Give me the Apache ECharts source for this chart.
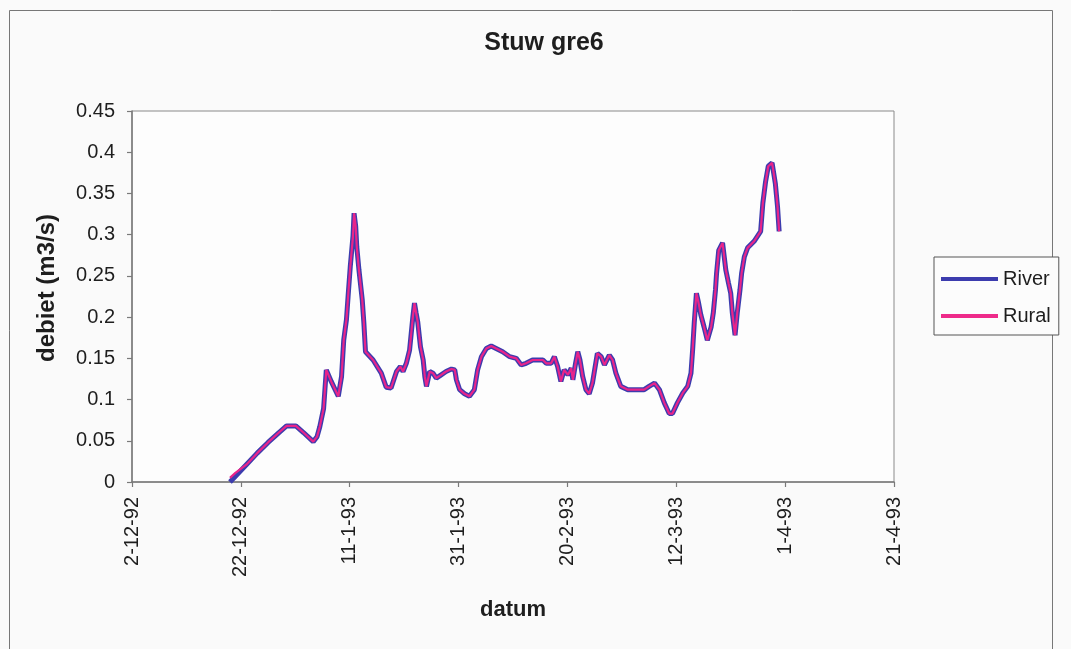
<!DOCTYPE html>
<html>
<head>
<meta charset="utf-8">
<title>Stuw gre6</title>
<script src="https://cdn.jsdelivr.net/npm/echarts@6/dist/echarts.min.js"></script>
<style>
  html, body { margin: 0; padding: 0; background: #fafafa; }
  #chart { width: 1071px; height: 649px; }
</style>
</head>
<body>
<div id="chart"></div>
<script>
// Date ticks along the x axis, one every 20 days starting 2-12-92
const dateTicks = ['2-12-92', '22-12-92', '11-1-93', '31-1-93', '20-2-93', '12-3-93', '1-4-93', '21-4-93'];

// Day offsets since 2-12-92
const days = [
  18.0, 19.0, 21.0, 23.0, 25.0, 27.0, 28.4, 30.1, 31.5, 33.3,
  34.0, 34.5, 35.2, 35.7, 36.6, 37.9, 38.5, 38.9, 39.4, 39.7,
  40.1, 40.6, 40.8, 41.1, 41.3, 41.7, 42.3, 42.6, 42.9, 44.3,
  45.8, 46.7, 47.6, 48.6, 49.3, 49.8, 50.4, 51.0, 51.3, 51.6,
  51.9, 52.2, 52.5, 53.0, 53.5, 53.8, 54.1, 54.7, 55.3, 55.9,
  56.8, 57.7, 58.7, 59.3, 59.6, 60.2, 61.1, 62.0, 62.9, 63.5,
  64.2, 65.1, 66.0, 66.9, 68.1, 69.4, 70.6, 71.5, 72.4, 73.6,
  75.5, 76.1, 77.0, 77.6, 78.2, 78.8, 79.4, 80.1, 80.7, 81.0,
  81.5, 81.9, 82.3, 82.8, 83.4, 84.0, 84.6, 85.5, 86.2, 86.8,
  87.7, 88.3, 88.9, 89.8, 91.1, 94.1, 95.0, 96.0, 96.9, 97.8,
  98.7, 99.3, 100.2, 101.2, 102.1, 102.7, 103.0, 103.3, 103.7, 104.1,
  104.5, 105.1, 105.7, 106.4, 106.8, 107.2, 107.4, 107.8, 108.5, 108.8,
  109.1, 109.6, 110.0, 110.3, 110.8, 111.2, 111.7, 112.0, 112.5, 113.1,
  114.3, 115.5, 115.9, 116.4, 116.9, 117.6, 118.2, 118.6, 118.9
];

// Discharge (m3/s), River model
const river = [
  0.000, 0.007, 0.021, 0.035, 0.048, 0.060, 0.068, 0.068, 0.060, 0.049,
  0.055, 0.067, 0.089, 0.136, 0.122, 0.104, 0.128, 0.172, 0.197, 0.225,
  0.261, 0.298, 0.326, 0.310, 0.285, 0.257, 0.221, 0.193, 0.158, 0.148,
  0.132, 0.115, 0.114, 0.134, 0.140, 0.134, 0.144, 0.160, 0.180, 0.200,
  0.217, 0.205, 0.194, 0.164, 0.148, 0.128, 0.116, 0.134, 0.132, 0.126,
  0.130, 0.134, 0.137, 0.136, 0.124, 0.112, 0.107, 0.104, 0.112, 0.136,
  0.152, 0.162, 0.165, 0.162, 0.158, 0.152, 0.150, 0.142, 0.144, 0.148,
  0.148, 0.144, 0.144, 0.152, 0.140, 0.122, 0.136, 0.130, 0.138, 0.124,
  0.144, 0.158, 0.148, 0.128, 0.112, 0.107, 0.120, 0.156, 0.152, 0.142,
  0.154, 0.148, 0.132, 0.116, 0.112, 0.112, 0.116, 0.120, 0.112, 0.096,
  0.083, 0.083, 0.096, 0.108, 0.116, 0.132, 0.160, 0.193, 0.229, 0.217,
  0.203, 0.188, 0.172, 0.188, 0.205, 0.233, 0.253, 0.281, 0.290, 0.288,
  0.257, 0.241, 0.229, 0.205, 0.178, 0.205, 0.233, 0.253, 0.273, 0.284,
  0.292, 0.304, 0.338, 0.364, 0.383, 0.387, 0.362, 0.334, 0.304
];

// Discharge (m3/s), Rural model
const rural = [
  0.005, 0.011, 0.021, 0.035, 0.048, 0.060, 0.068, 0.068, 0.060, 0.049,
  0.055, 0.067, 0.089, 0.136, 0.122, 0.104, 0.128, 0.172, 0.197, 0.225,
  0.261, 0.298, 0.326, 0.310, 0.285, 0.257, 0.221, 0.193, 0.158, 0.148,
  0.132, 0.115, 0.114, 0.134, 0.140, 0.134, 0.144, 0.160, 0.180, 0.200,
  0.217, 0.205, 0.194, 0.164, 0.148, 0.128, 0.116, 0.134, 0.132, 0.126,
  0.130, 0.134, 0.137, 0.136, 0.124, 0.112, 0.107, 0.104, 0.112, 0.136,
  0.152, 0.162, 0.165, 0.162, 0.158, 0.152, 0.150, 0.142, 0.144, 0.148,
  0.148, 0.144, 0.144, 0.152, 0.140, 0.122, 0.136, 0.130, 0.138, 0.124,
  0.144, 0.158, 0.148, 0.128, 0.112, 0.107, 0.120, 0.156, 0.152, 0.142,
  0.154, 0.148, 0.132, 0.116, 0.112, 0.112, 0.116, 0.120, 0.112, 0.096,
  0.083, 0.083, 0.096, 0.108, 0.116, 0.132, 0.160, 0.193, 0.229, 0.217,
  0.203, 0.188, 0.172, 0.188, 0.205, 0.233, 0.253, 0.281, 0.290, 0.288,
  0.257, 0.241, 0.229, 0.205, 0.178, 0.205, 0.233, 0.253, 0.273, 0.284,
  0.292, 0.304, 0.338, 0.364, 0.383, 0.387, 0.362, 0.334, 0.304
];

const FONT = '"Liberation Sans", Arial, sans-serif';
const AXIS_GREY = '#7a7a7a';
const TEXT = '#1e1e1e';

const chart = echarts.init(document.getElementById('chart'), null, { renderer: 'canvas' });

chart.setOption({
  backgroundColor: '#fafafa',
  animation: false,
  title: {
    text: 'Stuw gre6',
    left: 539,
    top: 26,
    textAlign: 'center',
    textStyle: { fontFamily: FONT, fontSize: 25, fontWeight: 'bold', color: TEXT }
  },
  legend: {
    orient: 'vertical',
    left: 934,
    top: 257,
    padding: [11, 8, 8, 7],
    itemWidth: 57,
    itemHeight: 4,
    itemGap: 15,
    borderColor: '#555',
    borderWidth: 1,
    backgroundColor: '#fcfcfc',
    icon: 'rect',
    textStyle: { fontFamily: FONT, fontSize: 20, color: TEXT, lineHeight: 22 },
    data: [
      { name: 'River', itemStyle: { color: '#3c3cae' } },
      { name: 'Rural', itemStyle: { color: '#ee2a8a' } }
    ]
  },
  grid: {
    left: 132,
    right: 177,
    top: 111,
    bottom: 167,
    show: true,
    backgroundColor: '#fdfdfd',
    borderColor: '#8a8a8a',
    borderWidth: 1
  },
  xAxis: {
    type: 'value',
    min: 0,
    max: 140,
    interval: 20,
    axisLine: { show: true, onZero: false, lineStyle: { color: AXIS_GREY, width: 1.5 } },
    axisTick: { show: true, length: 5, lineStyle: { color: AXIS_GREY, width: 1.2 } },
    splitLine: { show: false },
    axisLabel: {
      rotate: 90,
      margin: 15,
      fontFamily: FONT,
      fontSize: 20,
      color: TEXT,
      formatter: v => dateTicks[Math.round(v / 20)]
    }
  },
  yAxis: {
    type: 'value',
    min: 0,
    max: 0.45,
    interval: 0.05,
    axisLine: { show: true, lineStyle: { color: AXIS_GREY, width: 1.5 } },
    axisTick: { show: true, length: 5, lineStyle: { color: AXIS_GREY, width: 1.2 } },
    splitLine: { show: false },
    axisLabel: {
      margin: 17,
      fontFamily: FONT,
      fontSize: 20,
      color: TEXT,
      formatter: v => String(+v.toFixed(2))
    }
  },
  graphic: [
    {
      type: 'rect',
      silent: true,
      shape: { x: 9.5, y: 10.5, width: 1043, height: 660 },
      style: { fill: 'none', stroke: '#777', lineWidth: 1 },
      z: -1
    },
    {
      type: 'text',
      x: 47,
      y: 288,
      rotation: Math.PI / 2,
      style: {
        text: 'debiet (m3/s)',
        font: 'bold 24px ' + FONT,
        fill: TEXT,
        align: 'center',
        verticalAlign: 'middle'
      }
    },
    {
      type: 'text',
      x: 513,
      y: 610,
      style: {
        text: 'datum',
        font: 'bold 22px ' + FONT,
        fill: TEXT,
        align: 'center',
        verticalAlign: 'middle'
      }
    }
  ],
  series: [
    {
      name: 'River',
      type: 'line',
      symbol: 'none',
      data: days.map((d, i) => [d, river[i]]),
      lineStyle: { color: '#3c3cae', width: 5 },
      itemStyle: { color: '#3c3cae' },
      z: 2
    },
    {
      name: 'Rural',
      type: 'line',
      symbol: 'none',
      data: days.map((d, i) => [d, rural[i]]),
      lineStyle: { color: '#e8248a', width: 2.2 },
      itemStyle: { color: '#e8248a' },
      z: 3
    }
  ]
});
</script>
</body>
</html>
